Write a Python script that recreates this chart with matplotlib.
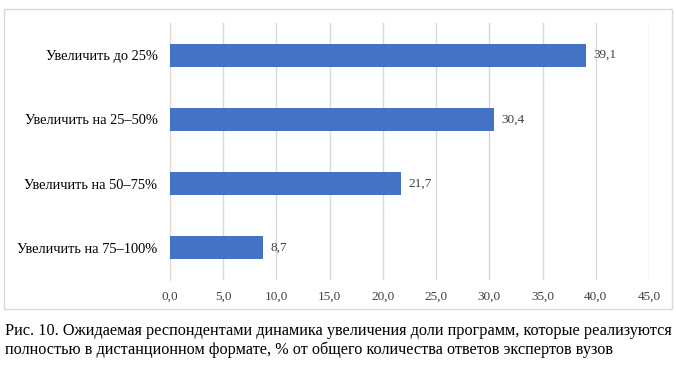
import matplotlib.pyplot as plt
from matplotlib.patches import Rectangle

# ===============================
# Data
# ===============================
categories = ["Увеличить до 25%", "Увеличить на 25–50%", "Увеличить на 50–75%", "Увеличить на 75–100%"]
values = [39.1, 30.4, 21.7, 8.7]
xticks = [0, 5, 10, 15, 20, 25, 30, 35, 40, 45]
caption = ("Рис. 10. Ожидаемая респондентами динамика увеличения доли программ, которые реализуются\n"
           "полностью в дистанционном формате, % от общего количества ответов экспертов вузов")

bar_color = "#4472C4"
grid_color = "#d9d9d9"
text_color = "#404040"

plt.rcParams['font.family'] = ['Liberation Serif', 'DejaVu Serif']

fig = plt.figure(figsize=(6.76, 3.65), dpi=100)
ax = fig.add_axes([170 / 676, 1 - 280 / 365, (649 - 170) / 676, (280 - 23) / 365])

# chart frame
fig.patches.append(Rectangle((4 / 676, 1 - 309 / 365), 668 / 676, 300 / 365,
                             transform=fig.transFigure, fill=False,
                             edgecolor=grid_color, linewidth=1.0))

ypos = list(range(len(categories)))
ax.barh(ypos, values, height=0.36, color=bar_color, zorder=3)

for y, v in zip(ypos, values):
    ax.text(v + 0.7, y, f"{v:.1f}".replace(".", ","), va="center", ha="left",
            fontsize=9.5, color=text_color)

ax.set_xlim(0, 45)
ax.set_ylim(len(categories) - 0.5, -0.5)
ax.set_xticks(xticks)
ax.set_xticklabels([f"{t:.1f}".replace(".", ",") for t in xticks], fontsize=9.5, color=text_color)
ax.set_yticks(ypos)
ax.set_yticklabels(categories, fontsize=10.4, color="black")
ax.tick_params(axis="both", length=0)
ax.tick_params(axis="x", pad=8)
ax.tick_params(axis="y", pad=9)

ax.grid(axis="x", color=grid_color, linewidth=1.0, zorder=0)
for side in ["top", "right", "bottom"]:
    ax.spines[side].set_visible(False)
ax.spines["left"].set_color(grid_color)

fig.text(5 / 676, 1 - 323 / 365, caption, ha="left", va="top", fontsize=11.7,
         color="black", linespacing=1.2)

fig.savefig("out.png", dpi=100)
